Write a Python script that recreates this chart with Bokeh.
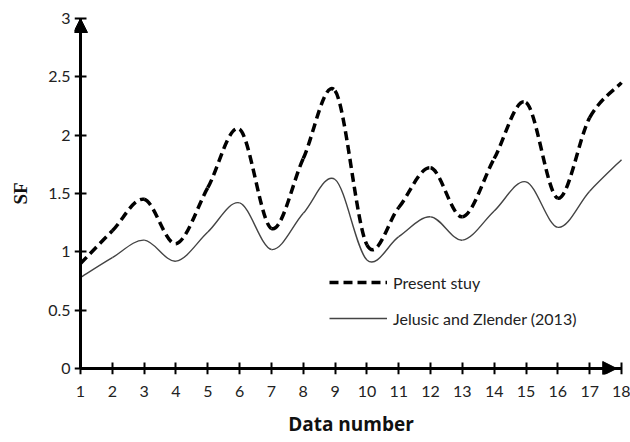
from bokeh.plotting import figure
from bokeh.models import Range1d, Arrow, NormalHead, Legend, LegendItem, FixedTicker, LinearAxis
from bokeh.embed import file_html
from bokeh.resources import INLINE

data_number = list(range(1, 19))
present_study = [0.90, 1.18, 1.45, 1.07, 1.55, 2.05, 1.20, 1.80, 2.38, 1.06, 1.38, 1.72, 1.30, 1.80, 2.28, 1.46, 2.15, 2.45]
jelusic_zlender = [0.78, 0.95, 1.10, 0.92, 1.17, 1.42, 1.02, 1.33, 1.62, 0.93, 1.13, 1.30, 1.10, 1.35, 1.60, 1.21, 1.52, 1.79]
x_ticks = list(range(1, 19))
y_ticks = [0, 0.5, 1, 1.5, 2, 2.5, 3]
series_names = ["Present stuy", "Jelusic and Zlender (2013)"]

FONT = "Lato"
NAN = float("nan")

# frame padded by 6 px around the axes so arrow heads are not clipped
X0, X1, Y0, Y1 = 1, 18, 0, 3
PAD = 6
x_pad = PAD * (X1 - X0) / 541.0
y_pad = PAD * (Y1 - Y0) / 350.0

p = figure(width=630, height=442, output_backend="svg", toolbar_location=None,
           x_range=Range1d(X0 - x_pad, X1 + x_pad), y_range=Range1d(Y0 - y_pad, Y1 + y_pad),
           min_border_left=74, min_border_right=3, min_border_top=12, min_border_bottom=68)
p.outline_line_color = None
p.xgrid.visible = False
p.ygrid.visible = False
p.background_fill_color = "white"
p.border_fill_color = "white"

# edge axes: carry tick labels and axis titles only
for ax in (p.xaxis[0], p.yaxis[0]):
    ax.axis_line_color = None
    ax.major_tick_line_color = None
    ax.minor_tick_line_color = None
    ax.major_tick_in = 0
    ax.major_tick_out = 0
    ax.major_label_text_font = FONT
    ax.major_label_text_font_size = "16px"
    ax.major_label_text_color = "#222222"

p.xaxis[0].ticker = FixedTicker(ticks=x_ticks)
p.yaxis[0].ticker = FixedTicker(ticks=y_ticks)
p.xaxis[0].major_label_standoff = 11
p.yaxis[0].major_label_standoff = 4
p.xaxis[0].axis_label = "Data number"
p.xaxis[0].axis_label_text_font = "Open Sans"
p.xaxis[0].axis_label_text_font_style = "bold"
p.xaxis[0].axis_label_text_font_size = "19px"
p.xaxis[0].axis_label_text_color = "#111111"
p.xaxis[0].axis_label_standoff = 11
p.yaxis[0].axis_label = "SF"
p.yaxis[0].axis_label_text_font = "Liberation Serif"
p.yaxis[0].axis_label_text_font_style = "bold"
p.yaxis[0].axis_label_text_font_size = "19px"
p.yaxis[0].axis_label_text_color = "#111111"
p.yaxis[0].axis_label_standoff = 14

# axis lines and ticks crossing at (1, 0)
for loc, side, bounds, ticks in (("below", "x", (X0, X1), x_ticks), ("left", "y", (Y0, Y1), y_ticks)):
    ax = LinearAxis(fixed_location=(Y0 if side == "x" else X0), bounds=bounds,
                    ticker=FixedTicker(ticks=ticks), axis_line_width=3, axis_line_color="black",
                    major_tick_line_width=2, major_tick_line_color="black",
                    major_tick_in=6, major_tick_out=6, minor_tick_line_color=None,
                    major_label_text_color=None)
    p.add_layout(ax, loc)


def smooth_segments(xs, ys):
    n = len(xs)
    seg = dict(x0=[], y0=[], x1=[], y1=[], cx0=[], cy0=[], cx1=[], cy1=[])
    for i in range(n - 1):
        x_prev, y_prev = (xs[i - 1], ys[i - 1]) if i > 0 else (xs[i], ys[i])
        x_next, y_next = (xs[i + 2], ys[i + 2]) if i + 2 < n else (xs[i + 1], ys[i + 1])
        seg["x0"].append(xs[i]); seg["y0"].append(ys[i])
        seg["x1"].append(xs[i + 1]); seg["y1"].append(ys[i + 1])
        seg["cx0"].append(xs[i] + (xs[i + 1] - x_prev) / 6)
        seg["cy0"].append(ys[i] + (ys[i + 1] - y_prev) / 6)
        seg["cx1"].append(xs[i + 1] - (x_next - xs[i]) / 6)
        seg["cy1"].append(ys[i + 1] - (y_next - ys[i]) / 6)
    return seg


s1 = smooth_segments(data_number, jelusic_zlender)
p.bezier(x0=s1["x0"], y0=s1["y0"], x1=s1["x1"], y1=s1["y1"], cx0=s1["cx0"], cy0=s1["cy0"],
         cx1=s1["cx1"], cy1=s1["cy1"], line_color="#444444", line_width=1.4)
s2 = smooth_segments(data_number, present_study)
p.bezier(x0=s2["x0"], y0=s2["y0"], x1=s2["x1"], y1=s2["y1"], cx0=s2["cx0"], cy0=s2["cy0"],
         cx1=s2["cx1"], cy1=s2["cy1"], line_color="black", line_width=3.5, line_dash="9 5")

# legend proxies (no visible data)
r_dash = p.line(x=[NAN], y=[NAN], line_color="black", line_width=3.5, line_dash="9 5")
r_solid = p.line(x=[NAN], y=[NAN], line_color="#444444", line_width=1.4)
legend = Legend(items=[LegendItem(label=series_names[0], renderers=[r_dash]),
                       LegendItem(label=series_names[1], renderers=[r_solid])],
                location=(255, 46), glyph_width=58, glyph_height=20, label_height=20,
                spacing=16, padding=0, margin=0, label_standoff=6,
                label_text_font=FONT, label_text_font_size="16px", label_text_color="#222222",
                border_line_color=None, background_fill_alpha=0)
p.add_layout(legend, "center")

# axis arrows
p.add_layout(Arrow(end=NormalHead(size=14, fill_color="black", line_color="black"),
                   x_start=X0, y_start=2.85, x_end=X0, y_end=Y1, line_width=3))
p.add_layout(Arrow(end=NormalHead(size=14, fill_color="black", line_color="black"),
                   x_start=17.5, y_start=Y0, x_end=17.85, y_end=Y0, line_width=3))

open("out.html", "w").write(file_html(p, INLINE))
